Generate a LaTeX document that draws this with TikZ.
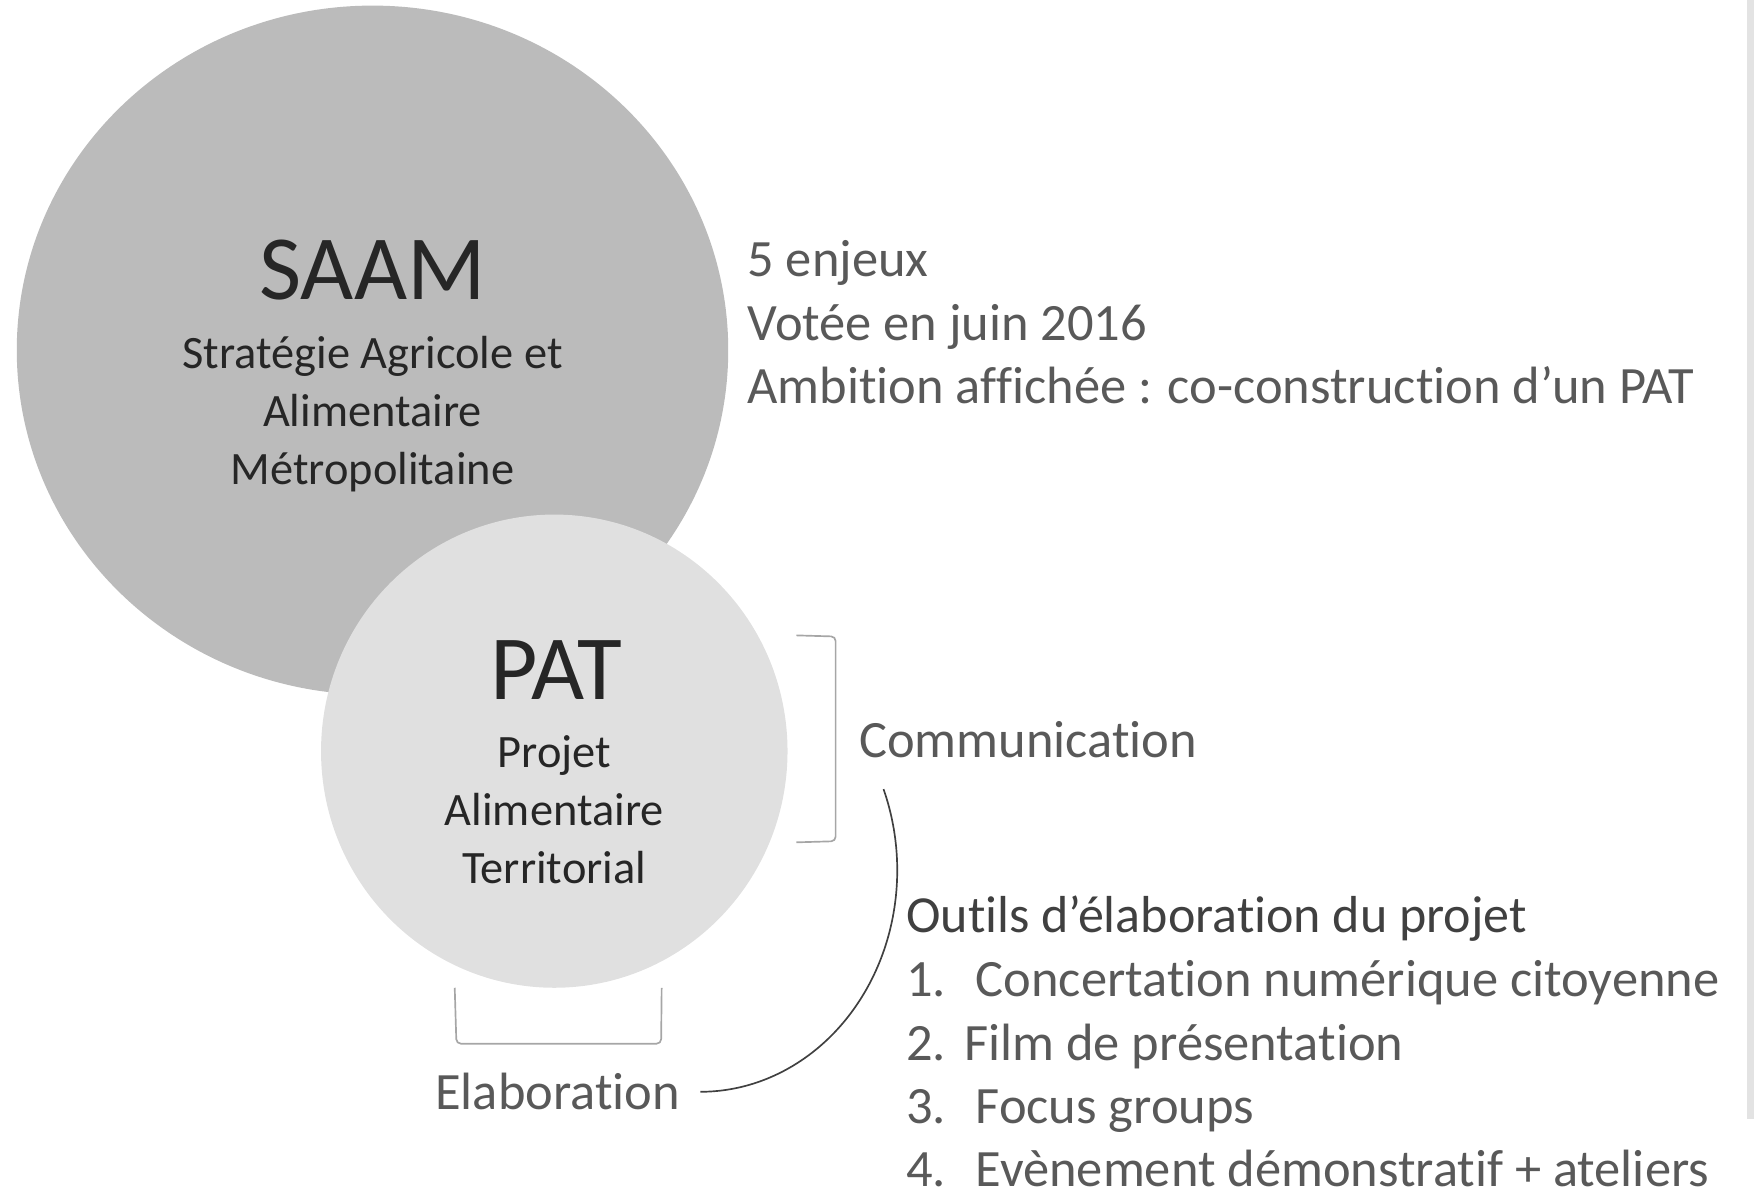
\documentclass[tikz,border=0pt]{standalone}
\usepackage{fontspec}
\setmainfont{Carlito}[Ligatures=NoCommon]
\usetikzlibrary{shapes.geometric}
\definecolor{saamfill}{HTML}{BBBBBB}
\definecolor{patfill}{HTML}{E0E0E0}
\definecolor{darktxt}{HTML}{262626}
\definecolor{greytxt}{HTML}{595959}
\definecolor{headtxt}{HTML}{404040}
\definecolor{bracketcol}{HTML}{A6A6A6}
\definecolor{curvecol}{HTML}{404040}
\definecolor{barcol}{HTML}{E3E3E3}
\begin{document}
\begin{tikzpicture}[x=1bp,y=-1bp,
  bubble/.style={ellipse, inner sep=0, draw=none},
  titletext/.style={font=\fontsize{82bp}{98bp}\selectfont, text=darktxt, anchor=base, inner sep=0},
  subtext/.style={font=\fontsize{41.5bp}{50bp}\selectfont, text=darktxt, anchor=base, inner sep=0},
  infotext/.style={font=\fontsize{46.9bp}{56bp}\selectfont, text=greytxt, anchor=base west, inner sep=0},
  labeltext/.style={font=\fontsize{46.9bp}{56bp}\selectfont, text=greytxt, inner sep=0},
  headtext/.style={font=\fontsize{46.5bp}{56bp}\selectfont, text=headtxt, anchor=base west, inner sep=0},
  bracketline/.style={draw=bracketcol, line width=1.5bp, rounded corners=4bp},
  curveline/.style={draw=curvecol, line width=1.5bp}]
\useasboundingbox (0,0) rectangle (1568,1067.4);
\fill[barcol] (1561.5,0) rectangle (1568,1000);
% circles
\node[bubble, fill=saamfill, minimum width=636bp, minimum height=616bp] (saam) at (333,313) {};
\node[bubble, fill=patfill, minimum width=417bp, minimum height=423bp] (pat) at (495.5,671.5) {};
% SAAM texts
\node[titletext] (saamt) at (333,268) {SAAM};
\node[subtext] (saam1) at (333,329.5) {Stratégie Agricole et};
\node[subtext] (saam2) at (333,381.5) {Alimentaire};
\node[subtext] (saam3) at (333,433) {Métropolitaine};
% PAT texts
\node[titletext] (patt) at (497,625) {PAT};
\node[subtext] (pat1) at (495.5,686) {Projet};
\node[subtext] (pat2) at (495.5,738) {Alimentaire};
\node[subtext] (pat3) at (495.5,790) {Territorial};
% info texts
\node[infotext] (info1) at (668,247.5) {5 enjeux};
\node[infotext] (info2) at (668,304) {Votée en juin 2016};
\node[infotext] (info3) at (668,360.5) {Ambition affichée : co-construction d’un PAT};
% brackets and labels
\draw[bracketline] (712,568) -- (747,569) -- (747,752) -- (712,753);
\node[labeltext, anchor=base west] (comm) at (768,677) {Communication};
\draw[bracketline] (406.5,883) -- (408,933) -- (591,933) -- (591.5,883);
\node[labeltext, anchor=base] (elab) at (498.5,992) {Elaboration};
% curve from Elaboration
\coordinate (cstart) at ([xshift=18bp]elab.east |- 0,976);
\draw[curveline] (cstart) arc[start angle=-90, end angle=21.5, x radius=176bp, y radius=198bp];
% tools list
\node[headtext] (head) at (810,834) {Outils d’élaboration du projet};
\node[infotext] (n1) at (810,891) {1.};
\node[infotext] (t1) at (872,891) {Concertation numérique citoyenne};
\node[infotext] (n2) at (810,948) {2.};
\node[infotext] (t2) at (862,948) {Film de présentation};
\node[infotext] (n3) at (810,1004.5) {3.};
\node[infotext] (t3) at (872,1004.5) {Focus groups};
\node[infotext] (n4) at (810,1060.5) {4.};
\node[infotext] (t4) at (872,1060.5) {Evènement démonstratif + ateliers};
\end{tikzpicture}
\end{document}
